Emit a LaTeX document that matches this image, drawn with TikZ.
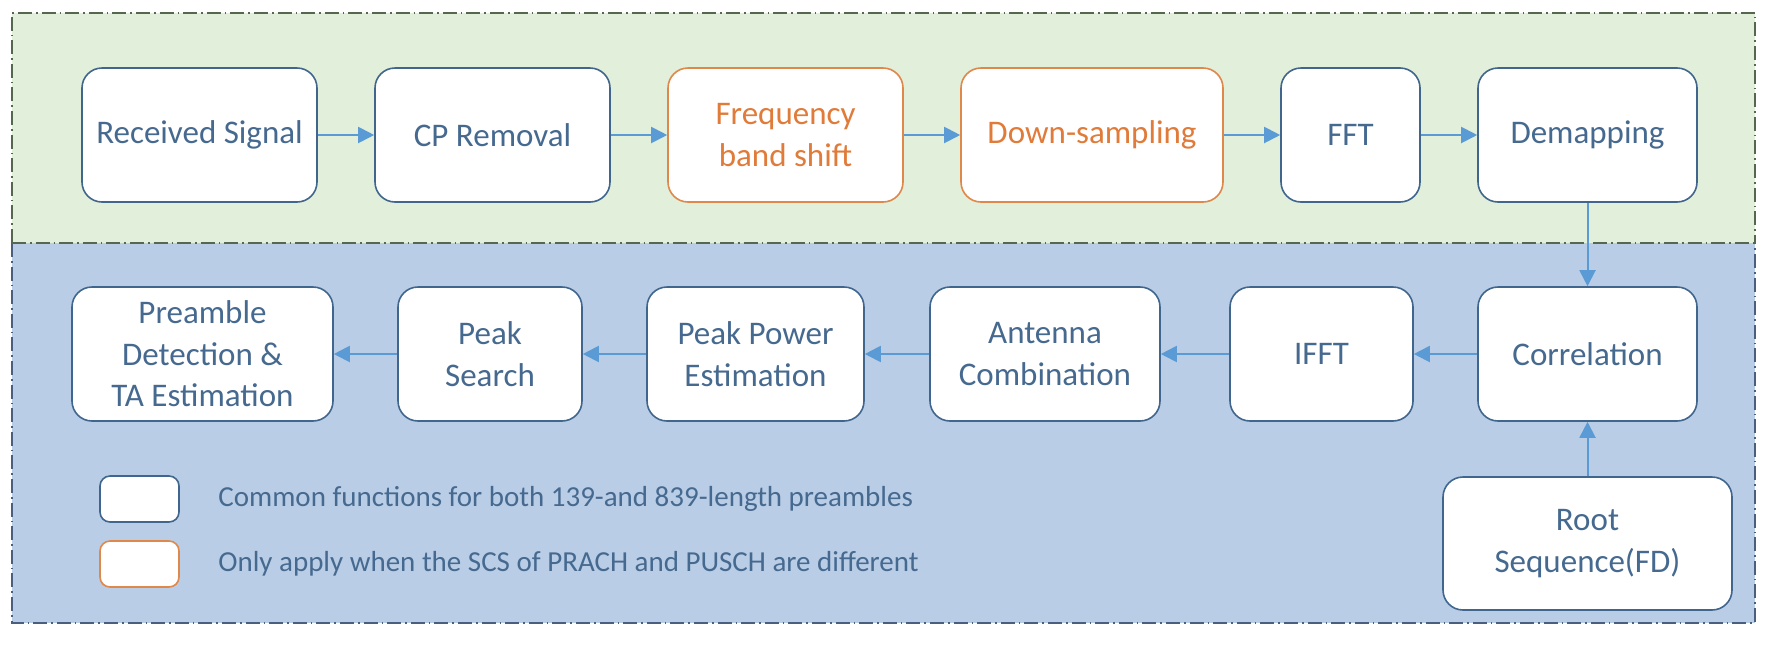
\documentclass[tikz,border=0pt]{standalone}
\usepackage{fontspec}
\setmainfont{Carlito}
\usetikzlibrary{arrows.meta}
\definecolor{greenbg}{HTML}{E2EFDA}
\definecolor{bluebg}{HTML}{B9CDE6}
\definecolor{greenframe}{HTML}{55684F}
\definecolor{blueframe}{HTML}{4A5F80}
\definecolor{boxline}{HTML}{41668E}
\definecolor{boxtext}{HTML}{46698F}
\definecolor{orangeline}{HTML}{E0874A}
\definecolor{orangetext}{HTML}{E07B39}
\definecolor{arrowc}{HTML}{5B9BD5}
\tikzset{
  frame/.style={line width=0.7pt, dash pattern=on 7pt off 2pt on 0.8pt off 2pt},
  stepbox/.style={draw=boxline, fill=white, line width=0.8pt, rounded corners=10pt,
    text=boxtext, font=\fontsize{16.5}{20.8}\selectfont, align=center, inner sep=0pt},
  orangebox/.style={stepbox, draw=orangeline, text=orangetext},
  legendbox/.style={draw=boxline, fill=white, line width=0.8pt, rounded corners=5pt,
    minimum width=39.5pt, minimum height=23pt, inner sep=0pt},
  legendtext/.style={text=boxtext, font=\fontsize{14.5}{17.5}\selectfont, anchor=west, inner sep=0pt},
  flow/.style={draw=arrowc, line width=1pt, -{Triangle[length=8pt,width=8pt]}}
}
\begin{document}
\begin{tikzpicture}[x=0.5pt,y=-0.5pt]
\useasboundingbox (0,0) rectangle (1765,649);
\fill[white] (0,0) rectangle (1765,649);
% regions
\fill[greenbg] (12,13) rectangle (1755,243);
\fill[bluebg] (12,243) rectangle (1755,623);
\draw[frame, draw=greenframe] (12,243) -- (12,13) -- (1755,13) -- (1755,243);
\draw[frame, draw=blueframe] (12,243) -- (12,623) -- (1755,623) -- (1755,243);
\draw[frame, draw=greenframe] (12,243) -- (1755,243);
% top row
\node[stepbox, minimum width=117.5pt, minimum height=67pt] (rs) at (199.5,135) {Received Signal};
\node[stepbox, minimum width=117.5pt, minimum height=67pt] (cp) at (492.5,135) {CP Removal};
\node[orangebox, minimum width=117.5pt, minimum height=67pt] (fbs) at (785.5,135) {Frequency\\band shift};
\node[orangebox, minimum width=131pt, minimum height=67pt] (ds) at (1092,135) {Down-sampling};
\node[stepbox, minimum width=69.5pt, minimum height=67pt] (fft) at (1350.5,135) {FFT};
\node[stepbox, minimum width=109.5pt, minimum height=67pt] (dem) at (1587.5,135) {Demapping};
% bottom row
\node[stepbox, minimum width=130.5pt, minimum height=67pt] (pd) at (202.5,354) {Preamble\\Detection \&\\TA Estimation};
\node[stepbox, minimum width=92pt, minimum height=67pt] (ps) at (490,354) {Peak\\Search};
\node[stepbox, minimum width=108.5pt, minimum height=67pt] (ppe) at (755.5,354) {Peak Power\\Estimation};
\node[stepbox, minimum width=115pt, minimum height=67pt] (ac) at (1045,354) {Antenna\\Combination};
\node[stepbox, minimum width=91.5pt, minimum height=67pt] (ifft) at (1321.5,354) {IFFT};
\node[stepbox, minimum width=109.5pt, minimum height=67pt] (corr) at (1587.5,354) {Correlation};
\node[stepbox, minimum width=144.5pt, minimum height=66.5pt] (root) at (1587.5,543.5) {Root\\Sequence(FD)};
% arrows
\draw[flow] (rs) -- (cp);
\draw[flow] (cp) -- (fbs);
\draw[flow] (fbs) -- (ds);
\draw[flow] (ds) -- (fft);
\draw[flow] (fft) -- (dem);
\draw[flow] (dem) -- (corr);
\draw[flow] (corr) -- (ifft);
\draw[flow] (ifft) -- (ac);
\draw[flow] (ac) -- (ppe);
\draw[flow] (ppe) -- (ps);
\draw[flow] (ps) -- (pd);
\draw[flow] (root) -- (corr);
% legend
\node[legendbox] (lg1) at (139.5,499) {};
\node[legendbox, draw=orangeline] (lg2) at (139.5,564) {};
\node[legendtext] (lt1) at (218,499) {Common functions for both 139-and 839-length preambles};
\node[legendtext] (lt2) at (218,564) {Only apply when the SCS of PRACH and PUSCH are different};
\end{tikzpicture}
\end{document}
